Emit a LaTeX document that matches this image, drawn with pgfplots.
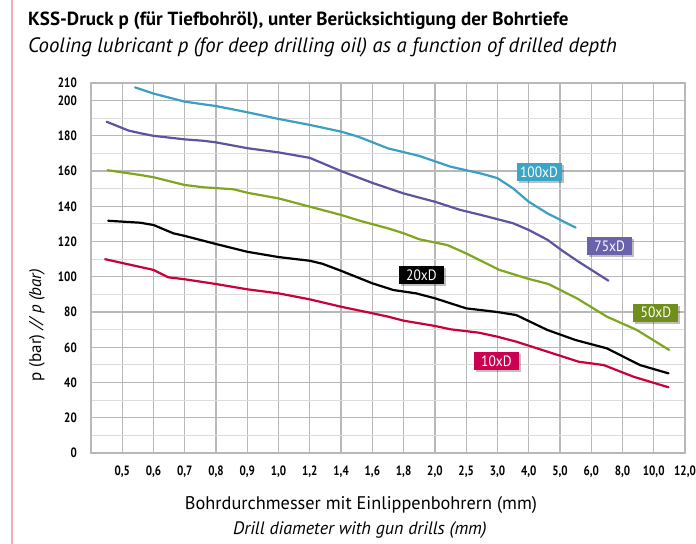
\documentclass[border=0pt]{standalone}
\usepackage{fontspec}
\setmainfont{PT Sans}
\newfontfamily\cond[FakeStretch=0.82]{PT Sans}
\newfontfamily\lblfont[FakeStretch=0.9]{PT Sans}
\usepackage{pgfplots}
\pgfplotsset{compat=1.18}
\usetikzlibrary{shadows}
\definecolor{ccyan}{HTML}{3A9FC0}
\definecolor{bcyan}{HTML}{3BA5C8}
\definecolor{cpurple}{HTML}{5B55A0}
\definecolor{bpurple}{HTML}{6A62AB}
\definecolor{cgreen}{HTML}{80A51E}
\definecolor{bgreen}{HTML}{6F8F1A}
\definecolor{cred}{HTML}{C8003C}
\definecolor{bred}{HTML}{CC0050}
\definecolor{pinkline}{HTML}{F0B0B0}
\definecolor{gridmaj}{HTML}{B8B8B8}
\definecolor{gridmin}{HTML}{DCDCDC}
\begin{document}
\begin{tikzpicture}[x=1bp,y=1bp]
\path[use as bounding box] (0,0) rectangle (696,544);
\draw[pinkline, line width=2bp] (12,0)--(12,544);
\node[anchor=base west, inner sep=0, font=\bfseries\fontsize{19bp}{22bp}\selectfont] at (28,518) {KSS-Druck p (für Tiefbohröl), unter Berücksichtigung der Bohrtiefe};
\node[anchor=base west, inner sep=0, font=\itshape\fontsize{20.8bp}{22bp}\selectfont] at (28,491) {Cooling lubricant p (for deep drilling oil) as a function of drilled depth};
\begin{axis}[
  at={(91bp,91bp)}, anchor=south west, scale only axis,
  width=594bp, height=370bp,
  xmin=0, xmax=19, ymin=0, ymax=210,
  xtick={1,...,19},
  xticklabels={{0,5},{0,6},{0,7},{0,8},{0,9},{1,0},{1,2},{1,4},{1,6},{1,8},{2,0},{2,5},{3,0},{4,0},{5,0},{6,0},{8,0},{10,0},{12,0}},
  ytick={0,20,40,60,80,100,120,140,160,180,200,210},
  yticklabels={0,20,40,60,80,100,120,140,160,180,200,210},
  minor ytick={10,30,50,70,90,110,130,150,170,190},
  major tick length=0, minor tick length=0,
  xmajorgrids, ymajorgrids, yminorgrids,
  x grid style={gridmaj, line width=1.3bp},
  y grid style={gridmaj, line width=1.3bp},
  minor y grid style={gridmin, line width=1.1bp},
  axis line style={gridmaj, line width=1.3bp},
  xticklabel style={anchor=center, inner sep=0, yshift=-19bp, font=\cond\bfseries\fontsize{13.5bp}{13.5bp}\selectfont},
  yticklabel style={anchor=east, inner sep=0, xshift=-14bp, font=\cond\bfseries\fontsize{13.5bp}{13.5bp}\selectfont},
  every axis plot/.append style={line width=2.2bp, line join=round, line cap=round},
  clip=false,
]
\addplot[ccyan] coordinates {(1.41,207.5) (2,204) (3,199.4) (4,196.9) (5,193.4) (6,189.6) (7,186.2) (8,182.4) (8.55,179.5) (9.5,172.9) (10.5,168.6) (11.5,162.5) (12.5,158.5) (13,156) (13.5,150.2) (14,142.6) (14.6,136) (15.5,127.9)};
\addplot[cpurple] coordinates {(0.5,188) (1.2,183) (1.6,181.4) (2,180) (3,178) (3.6,177.2) (4,176.3) (5,173) (6,170.6) (7,167.5) (8,160) (9,153.3) (10,147.3) (11,142.6) (11.8,138) (12.5,135) (13.5,130.4) (14,126.6) (14.6,121) (15.1,114.5) (15.6,108.5) (16.55,97.8)};
\addplot[cgreen] coordinates {(0.53,160.5) (1.57,157.8) (2,156.5) (3,152.1) (3.6,150.8) (4.55,149.7) (5,147.7) (6,144.5) (7,139.8) (8,135.1) (8.6,131.8) (9.5,127.5) (10,124.7) (10.5,121.3) (11.4,118) (12,113.3) (13.05,104) (13.94,99.1) (14.63,95.9) (15.54,87.8) (16.5,77.4) (17.46,69.8) (18.49,58.5)};
\addplot[black] coordinates {(0.55,131.8) (1.57,130.7) (2,129.4) (2.63,124.7) (3,123.2) (4,118.6) (5,114.2) (6,111.2) (7,109.1) (7.4,107.4) (8,103.4) (9,96.3) (9.67,92.5) (10.4,90.6) (11,87.8) (12,82.1) (13,80) (13.6,78.3) (14.6,69.8) (15.5,64.1) (16.5,59.4) (17.56,49.9) (18.47,45.2)};
\addplot[cred] coordinates {(0.45,110) (2,103.9) (2.47,99.7) (3,98.6) (4,95.9) (5,92.9) (6,90.6) (7,87.2) (8,83) (9,79.3) (9.5,77.4) (10,75.1) (11,72.1) (11.5,70.2) (12.4,68.3) (13,66) (13.6,63.2) (14.6,57.5) (15.6,51.8) (16.4,49.9) (17.35,43.3) (18.47,37.3)};
\tikzset{lbl/.style={inner sep=0, minimum width=45bp, minimum height=18bp, text=white, font=\lblfont\fontsize{15bp}{15bp}\selectfont, drop shadow={shadow xshift=2bp, shadow yshift=-2bp, fill=black, opacity=0.25}}}
\node[lbl, fill=bcyan] at (axis cs:14.33,159.2) {100xD};
\node[lbl, fill=bpurple] at (axis cs:16.59,117.4) {75xD};
\node[lbl, fill=bgreen] at (axis cs:18.07,79.7) {50xD};
\node[lbl, fill=black] at (axis cs:10.57,101) {20xD};
\node[lbl, fill=bred] at (axis cs:12.97,52) {10xD};
\end{axis}
\node[rotate=90, anchor=center, inner sep=0, font=\fontsize{17bp}{20bp}\selectfont] at (37,219) {p (bar) \textit{// p (bar)}};
\node[anchor=base, inner sep=0, font=\fontsize{18.3bp}{22bp}\selectfont] at (361,34) {Bohrdurchmesser mit Einlippenbohrern (mm)};
\node[anchor=base, inner sep=0, font=\itshape\fontsize{18bp}{22bp}\selectfont] at (360,9) {Drill diameter with gun drills (mm)};
\end{tikzpicture}
\end{document}
